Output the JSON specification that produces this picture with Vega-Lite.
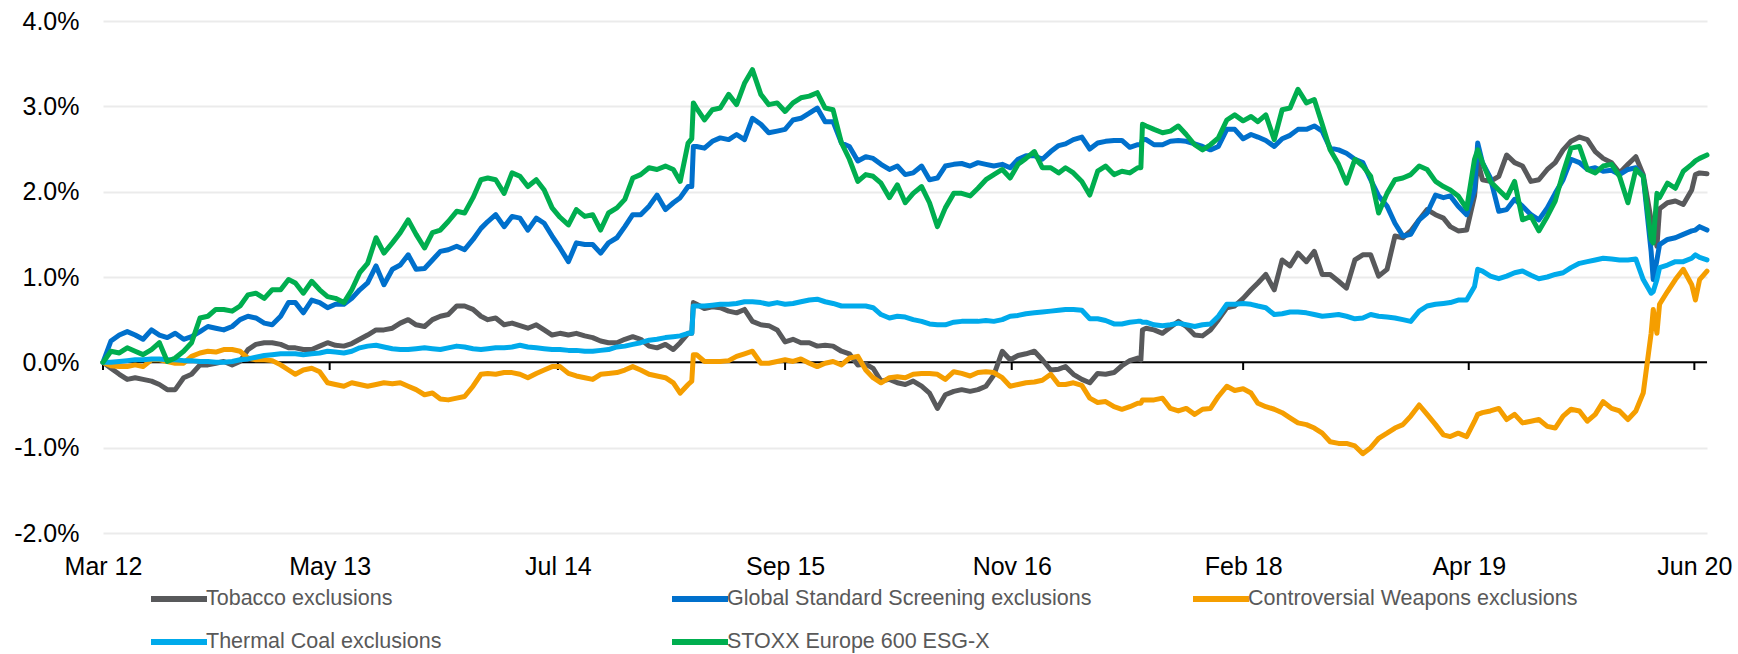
{
  "$schema": "https://vega.github.io/schema/vega-lite/v6.json",
  "width": 1604,
  "height": 512,
  "autosize": {"type": "none"},
  "padding": {"left": 103, "top": 21, "right": 31, "bottom": 121},
  "background": "white",
  "config": {"font": "Liberation Sans", "view": {"stroke": null}},
  "datasets": {
    "perf": [
      {"d":"2012-03-01","T":0,"G":0,"C":0,"H":0,"S":0},
      {"d":"2012-03-16","T":-0.07,"G":0.25,"C":-0.04,"H":0.0,"S":0.13},
      {"d":"2012-04-01","T":-0.14,"G":0.32,"C":-0.05,"H":0.01,"S":0.11},
      {"d":"2012-04-16","T":-0.2,"G":0.36,"C":-0.05,"H":0.02,"S":0.17},
      {"d":"2012-05-01","T":-0.18,"G":0.32,"C":-0.03,"H":0.03,"S":0.13},
      {"d":"2012-05-16","T":-0.2,"G":0.27,"C":-0.05,"H":0.03,"S":0.09},
      {"d":"2012-06-01","T":-0.22,"G":0.38,"C":0.03,"H":0.04,"S":0.15},
      {"d":"2012-06-16","T":-0.26,"G":0.32,"C":0.03,"H":0.04,"S":0.23},
      {"d":"2012-07-01","T":-0.32,"G":0.29,"C":0.01,"H":0.03,"S":0.01},
      {"d":"2012-07-16","T":-0.32,"G":0.34,"C":-0.01,"H":0.03,"S":0.05},
      {"d":"2012-08-01","T":-0.18,"G":0.27,"C":-0.01,"H":0.02,"S":0.13},
      {"d":"2012-08-16","T":-0.14,"G":0.3,"C":0.07,"H":0.02,"S":0.23},
      {"d":"2012-09-01","T":-0.03,"G":0.36,"C":0.11,"H":0.01,"S":0.52},
      {"d":"2012-09-16","T":-0.03,"G":0.42,"C":0.13,"H":0.01,"S":0.54},
      {"d":"2012-10-01","T":-0.01,"G":0.4,"C":0.12,"H":0.0,"S":0.62},
      {"d":"2012-10-16","T":0.01,"G":0.38,"C":0.15,"H":0.0,"S":0.62},
      {"d":"2012-11-01","T":-0.03,"G":0.42,"C":0.15,"H":0.01,"S":0.6},
      {"d":"2012-11-16","T":0.01,"G":0.5,"C":0.13,"H":0.03,"S":0.66},
      {"d":"2012-12-01","T":0.15,"G":0.54,"C":0.05,"H":0.04,"S":0.79},
      {"d":"2012-12-16","T":0.21,"G":0.52,"C":0.03,"H":0.06,"S":0.81},
      {"d":"2013-01-01","T":0.23,"G":0.46,"C":0.03,"H":0.08,"S":0.75},
      {"d":"2013-01-16","T":0.23,"G":0.44,"C":0.02,"H":0.09,"S":0.85},
      {"d":"2013-02-01","T":0.21,"G":0.54,"C":-0.03,"H":0.1,"S":0.85},
      {"d":"2013-02-16","T":0.17,"G":0.7,"C":-0.09,"H":0.1,"S":0.97},
      {"d":"2013-03-01","T":0.17,"G":0.7,"C":-0.14,"H":0.1,"S":0.93},
      {"d":"2013-03-16","T":0.15,"G":0.58,"C":-0.09,"H":0.09,"S":0.81},
      {"d":"2013-04-01","T":0.15,"G":0.73,"C":-0.07,"H":0.1,"S":0.95},
      {"d":"2013-04-16","T":0.19,"G":0.7,"C":-0.11,"H":0.11,"S":0.85},
      {"d":"2013-05-01","T":0.23,"G":0.64,"C":-0.24,"H":0.13,"S":0.77},
      {"d":"2013-05-16","T":0.2,"G":0.68,"C":-0.26,"H":0.12,"S":0.75},
      {"d":"2013-06-01","T":0.19,"G":0.68,"C":-0.28,"H":0.11,"S":0.7},
      {"d":"2013-06-16","T":0.22,"G":0.75,"C":-0.24,"H":0.13,"S":0.85},
      {"d":"2013-07-01","T":0.27,"G":0.85,"C":-0.26,"H":0.17,"S":1.05},
      {"d":"2013-07-16","T":0.32,"G":0.93,"C":-0.28,"H":0.19,"S":1.16},
      {"d":"2013-08-01","T":0.38,"G":1.13,"C":-0.26,"H":0.2,"S":1.46},
      {"d":"2013-08-16","T":0.38,"G":0.91,"C":-0.24,"H":0.18,"S":1.28},
      {"d":"2013-09-01","T":0.4,"G":1.09,"C":-0.25,"H":0.16,"S":1.4},
      {"d":"2013-09-16","T":0.46,"G":1.14,"C":-0.24,"H":0.15,"S":1.52},
      {"d":"2013-10-01","T":0.5,"G":1.26,"C":-0.28,"H":0.15,"S":1.67},
      {"d":"2013-10-16","T":0.44,"G":1.09,"C":-0.32,"H":0.16,"S":1.5},
      {"d":"2013-11-01","T":0.42,"G":1.1,"C":-0.38,"H":0.17,"S":1.34},
      {"d":"2013-11-16","T":0.5,"G":1.2,"C":-0.36,"H":0.16,"S":1.52},
      {"d":"2013-12-01","T":0.54,"G":1.3,"C":-0.43,"H":0.15,"S":1.55},
      {"d":"2013-12-16","T":0.56,"G":1.32,"C":-0.44,"H":0.17,"S":1.65},
      {"d":"2014-01-01","T":0.66,"G":1.36,"C":-0.42,"H":0.19,"S":1.77},
      {"d":"2014-01-16","T":0.66,"G":1.32,"C":-0.4,"H":0.18,"S":1.75},
      {"d":"2014-02-01","T":0.62,"G":1.44,"C":-0.28,"H":0.16,"S":1.93},
      {"d":"2014-02-16","T":0.54,"G":1.57,"C":-0.14,"H":0.15,"S":2.14},
      {"d":"2014-03-01","T":0.5,"G":1.65,"C":-0.13,"H":0.16,"S":2.16},
      {"d":"2014-03-16","T":0.52,"G":1.73,"C":-0.14,"H":0.17,"S":2.14},
      {"d":"2014-04-01","T":0.44,"G":1.59,"C":-0.12,"H":0.17,"S":1.98},
      {"d":"2014-04-16","T":0.46,"G":1.71,"C":-0.12,"H":0.18,"S":2.22},
      {"d":"2014-05-01","T":0.43,"G":1.69,"C":-0.14,"H":0.2,"S":2.18},
      {"d":"2014-05-16","T":0.4,"G":1.55,"C":-0.18,"H":0.18,"S":2.06},
      {"d":"2014-06-01","T":0.44,"G":1.69,"C":-0.13,"H":0.17,"S":2.14},
      {"d":"2014-06-16","T":0.38,"G":1.63,"C":-0.09,"H":0.16,"S":2.02},
      {"d":"2014-07-01","T":0.32,"G":1.48,"C":-0.05,"H":0.15,"S":1.81},
      {"d":"2014-07-16","T":0.34,"G":1.34,"C":-0.05,"H":0.15,"S":1.7},
      {"d":"2014-08-01","T":0.32,"G":1.18,"C":-0.13,"H":0.14,"S":1.61},
      {"d":"2014-08-16","T":0.34,"G":1.4,"C":-0.16,"H":0.14,"S":1.79},
      {"d":"2014-09-01","T":0.31,"G":1.38,"C":-0.18,"H":0.13,"S":1.71},
      {"d":"2014-09-16","T":0.29,"G":1.38,"C":-0.2,"H":0.13,"S":1.73},
      {"d":"2014-10-01","T":0.25,"G":1.28,"C":-0.14,"H":0.14,"S":1.55},
      {"d":"2014-10-16","T":0.23,"G":1.4,"C":-0.13,"H":0.15,"S":1.75},
      {"d":"2014-11-01","T":0.23,"G":1.46,"C":-0.12,"H":0.18,"S":1.81},
      {"d":"2014-11-16","T":0.27,"G":1.59,"C":-0.09,"H":0.19,"S":1.91},
      {"d":"2014-12-01","T":0.3,"G":1.73,"C":-0.05,"H":0.21,"S":2.16},
      {"d":"2014-12-16","T":0.27,"G":1.73,"C":-0.09,"H":0.23,"S":2.2},
      {"d":"2015-01-01","T":0.19,"G":1.83,"C":-0.14,"H":0.26,"S":2.28},
      {"d":"2015-01-16","T":0.17,"G":1.96,"C":-0.16,"H":0.27,"S":2.26},
      {"d":"2015-02-01","T":0.21,"G":1.79,"C":-0.18,"H":0.29,"S":2.3},
      {"d":"2015-02-16","T":0.15,"G":1.87,"C":-0.24,"H":0.3,"S":2.26},
      {"d":"2015-03-01","T":0.23,"G":1.93,"C":-0.36,"H":0.31,"S":2.12},
      {"d":"2015-03-16","T":0.34,"G":2.06,"C":-0.26,"H":0.34,"S":2.57},
      {"d":"2015-03-23","T":0.34,"G":2.06,"C":-0.22,"H":0.34,"S":2.62},
      {"d":"2015-03-26","T":0.7,"G":2.53,"C":0.09,"H":0.66,"S":3.04},
      {"d":"2015-04-01","T":0.68,"G":2.53,"C":0.09,"H":0.66,"S":2.98},
      {"d":"2015-04-16","T":0.63,"G":2.51,"C":0.01,"H":0.66,"S":2.84},
      {"d":"2015-05-01","T":0.65,"G":2.59,"C":0.01,"H":0.67,"S":2.96},
      {"d":"2015-05-16","T":0.64,"G":2.63,"C":0.01,"H":0.68,"S":2.98},
      {"d":"2015-06-01","T":0.6,"G":2.61,"C":0.02,"H":0.68,"S":3.14},
      {"d":"2015-06-16","T":0.58,"G":2.67,"C":0.07,"H":0.69,"S":3.02},
      {"d":"2015-07-01","T":0.62,"G":2.61,"C":0.1,"H":0.71,"S":3.27},
      {"d":"2015-07-16","T":0.48,"G":2.86,"C":0.13,"H":0.71,"S":3.43},
      {"d":"2015-08-01","T":0.44,"G":2.79,"C":-0.01,"H":0.7,"S":3.14},
      {"d":"2015-08-16","T":0.43,"G":2.69,"C":-0.01,"H":0.68,"S":3.02},
      {"d":"2015-09-01","T":0.38,"G":2.71,"C":0.01,"H":0.7,"S":3.04},
      {"d":"2015-09-16","T":0.24,"G":2.73,"C":0.03,"H":0.68,"S":2.94},
      {"d":"2015-10-01","T":0.27,"G":2.84,"C":0.01,"H":0.69,"S":3.04},
      {"d":"2015-10-16","T":0.23,"G":2.86,"C":0.04,"H":0.71,"S":3.1},
      {"d":"2015-11-01","T":0.23,"G":2.92,"C":-0.01,"H":0.73,"S":3.12},
      {"d":"2015-11-16","T":0.19,"G":2.98,"C":-0.05,"H":0.74,"S":3.16},
      {"d":"2015-12-01","T":0.2,"G":2.82,"C":-0.01,"H":0.71,"S":2.98},
      {"d":"2015-12-16","T":0.19,"G":2.82,"C":0.01,"H":0.69,"S":2.96},
      {"d":"2016-01-01","T":0.13,"G":2.57,"C":-0.03,"H":0.66,"S":2.57},
      {"d":"2016-01-16","T":0.1,"G":2.53,"C":0.05,"H":0.66,"S":2.38},
      {"d":"2016-02-01","T":-0.03,"G":2.36,"C":0.07,"H":0.66,"S":2.12},
      {"d":"2016-02-16","T":-0.02,"G":2.41,"C":-0.09,"H":0.66,"S":2.2},
      {"d":"2016-03-01","T":-0.07,"G":2.39,"C":-0.18,"H":0.64,"S":2.18},
      {"d":"2016-03-16","T":-0.22,"G":2.32,"C":-0.24,"H":0.56,"S":2.1},
      {"d":"2016-04-01","T":-0.2,"G":2.26,"C":-0.18,"H":0.52,"S":1.93},
      {"d":"2016-04-16","T":-0.24,"G":2.3,"C":-0.17,"H":0.54,"S":2.08},
      {"d":"2016-05-01","T":-0.26,"G":2.2,"C":-0.18,"H":0.53,"S":1.87},
      {"d":"2016-05-16","T":-0.22,"G":2.22,"C":-0.14,"H":0.5,"S":1.98},
      {"d":"2016-06-01","T":-0.28,"G":2.3,"C":-0.13,"H":0.48,"S":2.06},
      {"d":"2016-06-16","T":-0.36,"G":2.14,"C":-0.13,"H":0.45,"S":1.87},
      {"d":"2016-07-01","T":-0.54,"G":2.16,"C":-0.14,"H":0.44,"S":1.59},
      {"d":"2016-07-16","T":-0.38,"G":2.3,"C":-0.2,"H":0.44,"S":1.81},
      {"d":"2016-08-01","T":-0.34,"G":2.32,"C":-0.11,"H":0.47,"S":1.98},
      {"d":"2016-08-16","T":-0.32,"G":2.33,"C":-0.13,"H":0.48,"S":1.98},
      {"d":"2016-09-01","T":-0.34,"G":2.3,"C":-0.16,"H":0.48,"S":1.95},
      {"d":"2016-09-16","T":-0.32,"G":2.34,"C":-0.12,"H":0.48,"S":2.04},
      {"d":"2016-10-01","T":-0.28,"G":2.32,"C":-0.11,"H":0.49,"S":2.14},
      {"d":"2016-10-16","T":-0.15,"G":2.3,"C":-0.12,"H":0.48,"S":2.2},
      {"d":"2016-11-01","T":0.13,"G":2.32,"C":-0.18,"H":0.5,"S":2.26},
      {"d":"2016-11-16","T":0.03,"G":2.28,"C":-0.28,"H":0.54,"S":2.16},
      {"d":"2016-12-01","T":0.08,"G":2.38,"C":-0.26,"H":0.55,"S":2.32},
      {"d":"2016-12-16","T":0.1,"G":2.42,"C":-0.24,"H":0.57,"S":2.39},
      {"d":"2017-01-01","T":0.13,"G":2.42,"C":-0.23,"H":0.58,"S":2.47},
      {"d":"2017-01-16","T":0.03,"G":2.38,"C":-0.21,"H":0.59,"S":2.28},
      {"d":"2017-02-01","T":-0.09,"G":2.47,"C":-0.14,"H":0.6,"S":2.28},
      {"d":"2017-02-16","T":-0.08,"G":2.54,"C":-0.26,"H":0.61,"S":2.22},
      {"d":"2017-03-01","T":-0.05,"G":2.56,"C":-0.26,"H":0.62,"S":2.28},
      {"d":"2017-03-16","T":-0.14,"G":2.61,"C":-0.24,"H":0.62,"S":2.22},
      {"d":"2017-04-01","T":-0.2,"G":2.64,"C":-0.27,"H":0.61,"S":2.12},
      {"d":"2017-04-16","T":-0.24,"G":2.5,"C":-0.42,"H":0.51,"S":1.96},
      {"d":"2017-05-01","T":-0.13,"G":2.57,"C":-0.47,"H":0.51,"S":2.24},
      {"d":"2017-05-16","T":-0.14,"G":2.59,"C":-0.46,"H":0.49,"S":2.3},
      {"d":"2017-06-01","T":-0.12,"G":2.6,"C":-0.52,"H":0.45,"S":2.2},
      {"d":"2017-06-16","T":-0.04,"G":2.6,"C":-0.55,"H":0.45,"S":2.24},
      {"d":"2017-07-01","T":0.02,"G":2.52,"C":-0.52,"H":0.47,"S":2.22},
      {"d":"2017-07-16","T":0.05,"G":2.55,"C":-0.48,"H":0.48,"S":2.28},
      {"d":"2017-07-22","T":0.03,"G":2.55,"C":-0.48,"H":0.48,"S":2.28},
      {"d":"2017-07-25","T":0.38,"G":2.61,"C":-0.44,"H":0.47,"S":2.79},
      {"d":"2017-08-01","T":0.4,"G":2.61,"C":-0.44,"H":0.47,"S":2.77},
      {"d":"2017-08-16","T":0.38,"G":2.55,"C":-0.44,"H":0.44,"S":2.73},
      {"d":"2017-09-01","T":0.34,"G":2.55,"C":-0.42,"H":0.43,"S":2.69},
      {"d":"2017-09-16","T":0.41,"G":2.59,"C":-0.54,"H":0.44,"S":2.71},
      {"d":"2017-10-01","T":0.48,"G":2.6,"C":-0.57,"H":0.46,"S":2.77},
      {"d":"2017-10-16","T":0.42,"G":2.59,"C":-0.54,"H":0.44,"S":2.67},
      {"d":"2017-11-01","T":0.32,"G":2.56,"C":-0.61,"H":0.42,"S":2.55},
      {"d":"2017-11-16","T":0.31,"G":2.53,"C":-0.55,"H":0.44,"S":2.49},
      {"d":"2017-12-01","T":0.38,"G":2.49,"C":-0.54,"H":0.45,"S":2.55},
      {"d":"2017-12-16","T":0.5,"G":2.53,"C":-0.4,"H":0.54,"S":2.63},
      {"d":"2018-01-01","T":0.64,"G":2.73,"C":-0.28,"H":0.68,"S":2.84},
      {"d":"2018-01-16","T":0.66,"G":2.73,"C":-0.33,"H":0.68,"S":2.9},
      {"d":"2018-02-01","T":0.75,"G":2.62,"C":-0.31,"H":0.69,"S":2.83},
      {"d":"2018-02-16","T":0.85,"G":2.67,"C":-0.36,"H":0.68,"S":2.88},
      {"d":"2018-03-01","T":0.93,"G":2.64,"C":-0.48,"H":0.66,"S":2.82},
      {"d":"2018-03-16","T":1.03,"G":2.6,"C":-0.52,"H":0.64,"S":2.9},
      {"d":"2018-04-01","T":0.85,"G":2.53,"C":-0.55,"H":0.56,"S":2.61},
      {"d":"2018-04-16","T":1.2,"G":2.62,"C":-0.59,"H":0.57,"S":2.96},
      {"d":"2018-05-01","T":1.13,"G":2.66,"C":-0.65,"H":0.59,"S":2.98},
      {"d":"2018-05-16","T":1.28,"G":2.73,"C":-0.71,"H":0.59,"S":3.2},
      {"d":"2018-06-01","T":1.18,"G":2.73,"C":-0.73,"H":0.58,"S":3.04},
      {"d":"2018-06-16","T":1.3,"G":2.77,"C":-0.77,"H":0.56,"S":3.08},
      {"d":"2018-07-01","T":1.03,"G":2.71,"C":-0.83,"H":0.54,"S":2.79},
      {"d":"2018-07-16","T":1.03,"G":2.51,"C":-0.93,"H":0.55,"S":2.49},
      {"d":"2018-08-01","T":0.95,"G":2.49,"C":-0.95,"H":0.56,"S":2.32},
      {"d":"2018-08-16","T":0.87,"G":2.45,"C":-0.95,"H":0.54,"S":2.1},
      {"d":"2018-09-01","T":1.2,"G":2.38,"C":-0.98,"H":0.51,"S":2.38},
      {"d":"2018-09-16","T":1.26,"G":2.34,"C":-1.07,"H":0.52,"S":2.3},
      {"d":"2018-10-01","T":1.26,"G":2.14,"C":-1.0,"H":0.56,"S":2.18},
      {"d":"2018-10-16","T":1.01,"G":1.95,"C":-0.89,"H":0.54,"S":1.75},
      {"d":"2018-11-01","T":1.09,"G":1.83,"C":-0.83,"H":0.53,"S":1.98},
      {"d":"2018-11-16","T":1.48,"G":1.63,"C":-0.77,"H":0.52,"S":2.14},
      {"d":"2018-12-01","T":1.46,"G":1.48,"C":-0.73,"H":0.5,"S":2.16},
      {"d":"2018-12-16","T":1.54,"G":1.5,"C":-0.63,"H":0.48,"S":2.2},
      {"d":"2019-01-01","T":1.67,"G":1.67,"C":-0.5,"H":0.6,"S":2.3},
      {"d":"2019-01-16","T":1.79,"G":1.75,"C":-0.61,"H":0.66,"S":2.26},
      {"d":"2019-02-01","T":1.73,"G":1.96,"C":-0.73,"H":0.68,"S":2.12},
      {"d":"2019-02-16","T":1.69,"G":1.93,"C":-0.85,"H":0.69,"S":2.06},
      {"d":"2019-03-01","T":1.59,"G":1.95,"C":-0.87,"H":0.7,"S":2.02},
      {"d":"2019-03-16","T":1.54,"G":1.83,"C":-0.83,"H":0.73,"S":1.95},
      {"d":"2019-04-01","T":1.55,"G":1.73,"C":-0.87,"H":0.73,"S":1.8},
      {"d":"2019-04-16","T":1.95,"G":2.02,"C":-0.69,"H":0.89,"S":2.38},
      {"d":"2019-04-22","T":2.36,"G":2.57,"C":-0.61,"H":1.09,"S":2.49},
      {"d":"2019-05-01","T":2.14,"G":2.34,"C":-0.59,"H":1.07,"S":2.34},
      {"d":"2019-05-16","T":2.12,"G":2.16,"C":-0.57,"H":1.01,"S":2.12},
      {"d":"2019-06-01","T":2.18,"G":1.77,"C":-0.54,"H":0.98,"S":2.02},
      {"d":"2019-06-16","T":2.43,"G":1.79,"C":-0.67,"H":1.01,"S":1.93},
      {"d":"2019-07-01","T":2.34,"G":1.91,"C":-0.61,"H":1.05,"S":2.12},
      {"d":"2019-07-16","T":2.3,"G":1.83,"C":-0.71,"H":1.07,"S":1.67},
      {"d":"2019-08-01","T":2.12,"G":1.73,"C":-0.69,"H":1.02,"S":1.71},
      {"d":"2019-08-16","T":2.14,"G":1.67,"C":-0.67,"H":0.98,"S":1.54},
      {"d":"2019-09-01","T":2.26,"G":1.81,"C":-0.75,"H":1.0,"S":1.71},
      {"d":"2019-09-16","T":2.34,"G":1.98,"C":-0.77,"H":1.03,"S":1.89},
      {"d":"2019-10-01","T":2.49,"G":2.14,"C":-0.63,"H":1.05,"S":2.22},
      {"d":"2019-10-16","T":2.59,"G":2.38,"C":-0.55,"H":1.11,"S":2.51},
      {"d":"2019-11-01","T":2.64,"G":2.34,"C":-0.57,"H":1.16,"S":2.53},
      {"d":"2019-11-16","T":2.61,"G":2.26,"C":-0.69,"H":1.18,"S":2.26},
      {"d":"2019-12-01","T":2.47,"G":2.28,"C":-0.61,"H":1.2,"S":2.22},
      {"d":"2019-12-16","T":2.39,"G":2.24,"C":-0.46,"H":1.22,"S":2.3},
      {"d":"2020-01-01","T":2.34,"G":2.25,"C":-0.54,"H":1.21,"S":2.32},
      {"d":"2020-01-16","T":2.22,"G":2.2,"C":-0.57,"H":1.2,"S":2.18},
      {"d":"2020-02-01","T":2.32,"G":2.26,"C":-0.67,"H":1.2,"S":1.87},
      {"d":"2020-02-16","T":2.41,"G":2.28,"C":-0.57,"H":1.21,"S":2.26},
      {"d":"2020-03-01","T":2.2,"G":2.18,"C":-0.36,"H":0.97,"S":2.18},
      {"d":"2020-03-16","T":1.67,"G":1.3,"C":0.34,"H":0.81,"S":1.44},
      {"d":"2020-03-20","T":1.59,"G":0.97,"C":0.62,"H":0.83,"S":1.4},
      {"d":"2020-03-27","T":1.36,"G":1.2,"C":0.34,"H":0.97,"S":1.98},
      {"d":"2020-04-01","T":1.8,"G":1.38,"C":0.68,"H":1.11,"S":1.93},
      {"d":"2020-04-16","T":1.87,"G":1.44,"C":0.83,"H":1.14,"S":2.1},
      {"d":"2020-05-01","T":1.89,"G":1.46,"C":0.97,"H":1.18,"S":2.04},
      {"d":"2020-05-16","T":1.85,"G":1.5,"C":1.09,"H":1.18,"S":2.24},
      {"d":"2020-06-01","T":2.02,"G":1.54,"C":0.91,"H":1.22,"S":2.32},
      {"d":"2020-06-08","T":2.2,"G":1.55,"C":0.73,"H":1.26,"S":2.36},
      {"d":"2020-06-16","T":2.22,"G":1.59,"C":0.97,"H":1.23,"S":2.39},
      {"d":"2020-06-30","T":2.21,"G":1.55,"C":1.07,"H":1.2,"S":2.43}
    ],
    "ticks": [
      {"d":"2012-03-01"},{"d":"2013-05-05"},{"d":"2014-07-12"},{"d":"2015-09-16"},
      {"d":"2016-11-19"},{"d":"2018-02-01"},{"d":"2019-04-05"},{"d":"2020-06-06"}
    ]
  },
  "layer": [
    {
      "data": {"values": [{}]},
      "mark": {"type": "rule", "color": "#000000", "strokeWidth": 2},
      "encoding": {"y": {"datum": 0, "type": "quantitative"}}
    },
    {
      "data": {"name": "ticks"},
      "mark": {"type": "rule", "color": "#000000", "strokeWidth": 2},
      "encoding": {
        "x": {"field": "d", "type": "temporal"},
        "y": {"datum": 0, "type": "quantitative"},
        "y2": {"datum": -0.09}
      }
    },
    {
      "data": {"name": "perf"},
      "transform": [{"fold": ["T", "G", "C", "H", "S"], "as": ["series", "value"]}],
      "mark": {"type": "line", "strokeWidth": 5, "strokeJoin": "round", "strokeCap": "round"},
      "encoding": {
        "x": {
          "field": "d", "type": "temporal",
          "scale": {"type": "utc", "domain": [{"year": 2012, "month": 3, "date": 1, "utc": true}, {"year": 2020, "month": 6, "date": 30, "utc": true}]},
          "axis": {
            "title": null,
            "values": [
              {"year": 2012, "month": 3, "date": 1, "utc": true},
              {"year": 2013, "month": 5, "date": 5, "utc": true},
              {"year": 2014, "month": 7, "date": 12, "utc": true},
              {"year": 2015, "month": 9, "date": 16, "utc": true},
              {"year": 2016, "month": 11, "date": 19, "utc": true},
              {"year": 2018, "month": 2, "date": 1, "utc": true},
              {"year": 2019, "month": 4, "date": 5, "utc": true},
              {"year": 2020, "month": 6, "date": 6, "utc": true}
            ],
            "format": "%b %y",
            "grid": false, "domain": false, "ticks": false,
            "labelPadding": 21, "labelFontSize": 25, "labelColor": "#000000",
            "labelFlush": false, "labelOverlap": false
          }
        },
        "y": {
          "field": "value", "type": "quantitative",
          "scale": {"domain": [-2, 4], "nice": false, "zero": false},
          "axis": {
            "title": null,
            "values": [-2, -1, 0, 1, 2, 3, 4],
            "grid": true, "gridColor": "#EBEBEB", "gridWidth": 2,
            "domain": false, "ticks": false,
            "labelPadding": 24, "labelFontSize": 25, "labelColor": "#000000",
            "labelExpr": "(datum.value < 0 ? '-' : '') + format(abs(datum.value), '.1f') + '%'"
          }
        },
        "color": {
          "field": "series", "type": "nominal",
          "scale": {"domain": ["T", "G", "C", "H", "S"], "range": ["#58595B", "#0070CC", "#F59E00", "#00AAEB", "#00AE4F"]},
          "legend": {
            "title": null,
            "orient": "none", "legendX": 45, "legendY": 547,
            "direction": "horizontal", "columns": 3, "gridAlign": "all",
            "symbolType": "stroke", "symbolStrokeWidth": 6, "symbolSize": 3136,
            "labelFontSize": 21.5, "labelColor": "#595959", "labelLimit": 0, "labelOffset": -4,
            "columnPadding": 89, "rowPadding": -19,
            "labelExpr": "datum.label == 'T' ? 'Tobacco exclusions' : datum.label == 'G' ? 'Global Standard Screening exclusions' : datum.label == 'C' ? 'Controversial Weapons exclusions' : datum.label == 'H' ? 'Thermal Coal exclusions' : 'STOXX Europe 600 ESG-X'"
          }
        }
      }
    }
  ]
}
